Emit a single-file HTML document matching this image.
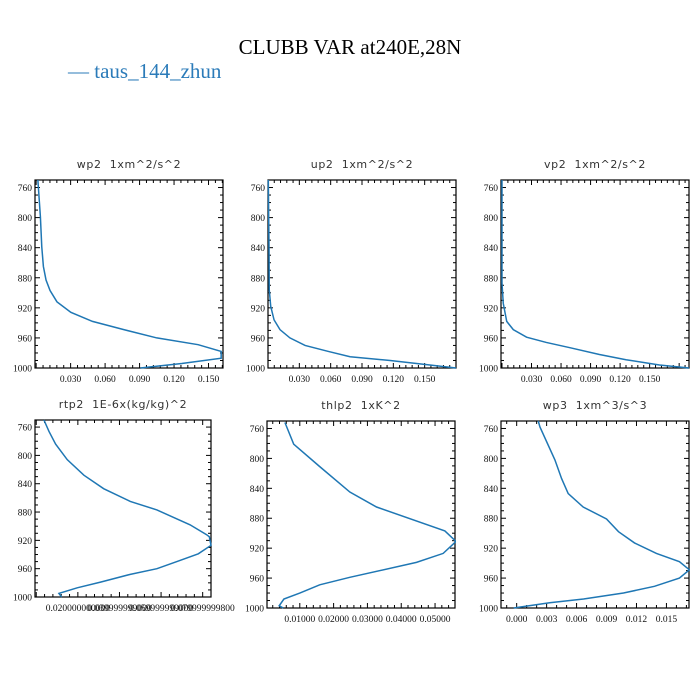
<!DOCTYPE html>
<html><head><meta charset="utf-8">
<style>
html,body{margin:0;padding:0;background:#fff;}
svg{display:block;}
.ptitle{font-family:"DejaVu Sans","Liberation Sans",sans-serif;font-size:11px;fill:#333;letter-spacing:0.6px;white-space:pre;}
.tick{font-family:"Liberation Serif",serif;font-size:9.5px;fill:#111;}
</style></head>
<body>
<svg id="chart" width="700" height="700" viewBox="0 0 700 700" xmlns="http://www.w3.org/2000/svg">
<text x="350" y="54" text-anchor="middle" font-family="Liberation Serif,serif" font-size="21" fill="#000">CLUBB VAR at240E,28N</text>
<text x="68" y="78" font-family="Liberation Serif,serif" font-size="21" fill="#2b7bb9">— taus_144_zhun</text>
</svg>
<script>
// Pressure levels (hPa) per panel and values
const wp2P = [750,799,839,865,883,897,912,926,938,949,960,969,978,987,994,1000];
const wp2V = [0.0015,0.0037,0.0049,0.0063,0.0086,0.0121,0.0181,0.0302,0.049,0.0763,0.105,0.141,0.161,0.161,0.1267,0.0907];
const up2P = [750,843,896,918,936,949,960,970,978,985,990,996,1000];
const up2V = [0.0003,0.001,0.0012,0.0026,0.0058,0.0115,0.021,0.0355,0.0578,0.0786,0.117,0.155,0.180];
const vp2P = [750,887,914,938,949,959,966,973,982,989,996,1000];
const vp2V = [0,0,0.0013,0.0048,0.0115,0.025,0.045,0.069,0.099,0.126,0.16,0.19];
const rtp2P = [750,766,784,806,828,847,865,877,898,912,915,927,939,950,960,968,979,987,995,1000];
const rtp2V = [0.0037,0.0061,0.0093,0.0149,0.0229,0.0324,0.0452,0.058,0.0739,0.0819,0.0832,0.084,0.0779,0.0676,0.058,0.0452,0.0309,0.0197,0.0109,0.0122];
const thlp2P = [752,781,811,845,865,897,911,927,939,959,969,980,988,997,1000];
const thlp2V = [0.0056,0.0082,0.0159,0.0248,0.0327,0.0529,0.0562,0.0524,0.0445,0.0248,0.0159,0.0100,0.0053,0.0039,0.0051];
const wp3P = [750,758,802,827,847,865,881,898,913,927,938,949,960,971,980,988,993,1000];
const wp3V = [0.00216,0.00233,0.00383,0.0045,0.00516,0.00666,0.009,0.0102,0.0118,0.014,0.0163,0.0173,0.0163,0.0138,0.0107,0.0067,0.0033,-0.0003];
const yTicks = [760,800,840,880,920,960,1000];
const wp2Ticks = [0.03,0.06,0.09,0.12,0.15];
const wp2Labels = ["0.030","0.060","0.090","0.120","0.150"];
const rtp2Ticks = [0.02,0.04,0.06,0.08];
const rtp2Labels = ["0.020000000000","0.039999999000","0.059999999000","0.079999999800"];
const thlp2Ticks = [0.01,0.02,0.03,0.04,0.05];
const thlp2Labels = ["0.01000","0.02000","0.03000","0.04000","0.05000"];
const wp3Ticks = [0,0.003,0.006,0.009,0.012,0.015];
const wp3Labels = ["0.000","0.003","0.006","0.009","0.012","0.015"];

const NS="http://www.w3.org/2000/svg";
const svg=document.getElementById('chart');
function mk(tag,attrs,parent){const e=document.createElementNS(NS,tag);for(const k in attrs)e.setAttribute(k,attrs[k]);(parent||svg).appendChild(e);return e;}

function panel(name,title,L,R,T,B,xmin,xmax,P,V,xt,xl,minorStep){
  const g=mk('g',{});
  
  
  const xs=v=>L+(v-xmin)/(xmax-xmin)*(R-L);
  const ys=p=>T+(p-750)/250*(B-T);
  const t=mk('text',{x:(L+R)/2,y:T-12,'text-anchor':'middle',class:'ptitle'},g);
  t.textContent=title;
  
  
  // y ticks
  for(let p=750;p<=1000;p+=10){
    const y=ys(p);const major=(p-760)%40===0&&p>=760;
    const len=major?5:3;
    mk('line',{x1:L,x2:L+len,y1:y,y2:y,stroke:'#000','stroke-width':1},g);
    mk('line',{x1:R,x2:R-len,y1:y,y2:y,stroke:'#000','stroke-width':1},g);
  }
  yTicks.forEach(p=>{
    const tx=mk('text',{x:L-3,y:ys(p)+3.5,'text-anchor':'end',class:'tick'},g);
    tx.textContent=String(p);
    
    
  });
  // x ticks
  const step=xt[1]-xt[0];const ms=step/minorStep;
  for(let v=xt[0]-Math.floor((xt[0]-xmin)/ms)*ms; v<=xmax+1e-9; v+=ms){
    const x=xs(v);if(x<L-0.1||x>R+0.1)continue;
    const k=Math.round((v-xt[0])/step*1e6)/1e6;
    const major=Math.abs(k-Math.round(k))<1e-3;
    const len=major?5:3;
    mk('line',{x1:x,x2:x,y1:B,y2:B-len,stroke:'#000','stroke-width':1},g);
    mk('line',{x1:x,x2:x,y1:T,y2:T+len,stroke:'#000','stroke-width':1},g);
  }
  xt.forEach((v,i)=>{
    const tx=mk('text',{x:xs(v),y:B+14,'text-anchor':'middle',class:'tick'},g);
    tx.textContent=xl[i];
    
    
  });
  const r=mk('rect',{x:L,y:T,width:R-L,height:B-T,fill:'none',stroke:'#000','stroke-width':1.2},g);
  
  
  const d=P.map((p,i)=>(i?'L':'M')+xs(V[i]).toFixed(2)+','+ys(p).toFixed(2)).join(' ');
  const cp=mk('clipPath',{id:'c'+name},g);
  mk('rect',{x:L-1,y:T-1,width:R-L+2,height:B-T+2},cp);
  const path=mk('path',{d:d,fill:'none',stroke:'#1f77b4','stroke-width':1.5,'clip-path':'url(#c'+name+')'},g);
  
  
}
panel('wp2','wp2  1xm^2/s^2',35,223,180,368,-0.001,0.1626,wp2P,wp2V,wp2Ticks,wp2Labels,5);
panel('up2','up2  1xm^2/s^2',268,456,180,368,0,0.180,up2P,up2V,wp2Ticks,wp2Labels,5);
panel('vp2','vp2  1xm^2/s^2',501,689,180,368,-0.001,0.19,vp2P,vp2V,wp2Ticks,wp2Labels,5);
panel('rtp2','rtp2  1E-6x(kg/kg)^2',35,211,420,597,-0.0006,0.084,rtp2P,rtp2V,rtp2Ticks,rtp2Labels,5);
panel('thlp2','thlp2  1xK^2',267,455,421,608,0.0003,0.0559,thlp2P,thlp2V,thlp2Ticks,thlp2Labels,5);
panel('wp3','wp3  1xm^3/s^3',501,689,421,608,-0.00157,0.01726,wp3P,wp3V,wp3Ticks,wp3Labels,3);
</script>
</body></html>
